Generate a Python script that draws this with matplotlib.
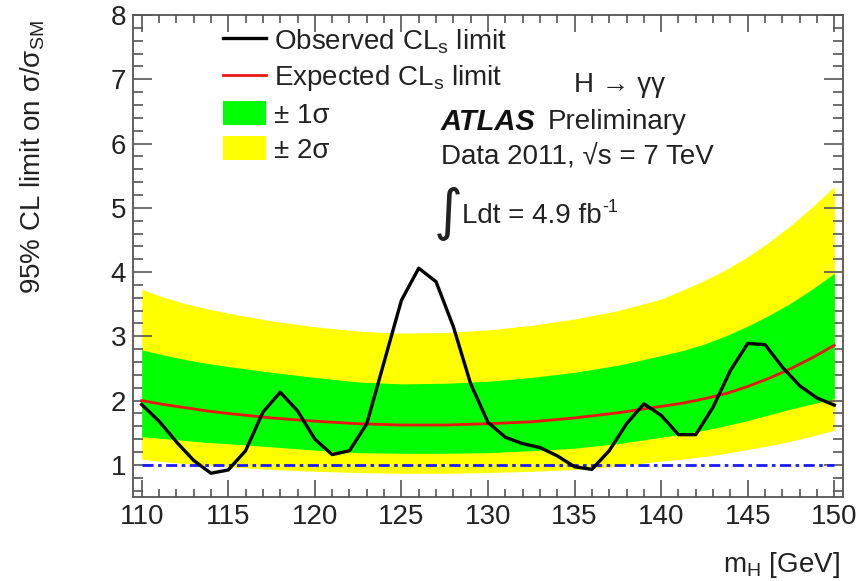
import matplotlib
matplotlib.use("Agg")
import matplotlib.pyplot as plt
from matplotlib.lines import Line2D
from matplotlib.patches import Patch
from matplotlib.ticker import MultipleLocator

plt.rcParams['font.family'] = ['Liberation Sans', 'DejaVu Sans']
plt.rcParams['mathtext.fontset'] = 'custom'
plt.rcParams['mathtext.rm'] = 'Liberation Sans'
plt.rcParams['mathtext.it'] = 'Liberation Sans:italic'
plt.rcParams['mathtext.bf'] = 'Liberation Sans:bold'

# ---------------- data ----------------
mass_obs = [110, 111, 112, 113, 114, 115, 116, 117, 118, 119, 120, 121, 122, 123, 124,
            125, 126, 127, 128, 129, 130, 131, 132, 133, 134, 135, 136, 137, 138, 139,
            140, 141, 142, 143, 144, 145, 146, 147, 148, 149, 150]
observed = [1.94, 1.68, 1.36, 1.07, 0.87, 0.92, 1.22, 1.82, 2.13, 1.84, 1.40, 1.16, 1.22, 1.64, 2.60,
            3.56, 4.06, 3.85, 3.15, 2.26, 1.66, 1.43, 1.33, 1.27, 1.14, 0.97, 0.93, 1.22, 1.64, 1.95,
            1.77, 1.47, 1.47, 1.90, 2.47, 2.89, 2.87, 2.52, 2.23, 2.04, 1.93]

mass_exp = [110, 111.25, 112.5, 113.75, 115, 117.5, 120, 122.5, 125, 127.5, 130, 132.5,
            135, 137.5, 140, 141.25, 142.5, 143.75, 145, 146.25, 147.5, 148.75, 150]
expected = [2.00, 1.94, 1.89, 1.84, 1.80, 1.73, 1.68, 1.64, 1.62, 1.62, 1.64, 1.67,
            1.73, 1.81, 1.91, 1.96, 2.03, 2.11, 2.22, 2.35, 2.50, 2.67, 2.86]
band_2s_up = [3.73, 3.61, 3.51, 3.43, 3.36, 3.24, 3.15, 3.08, 3.05, 3.06, 3.10, 3.17,
              3.27, 3.40, 3.58, 3.72, 3.87, 4.04, 4.24, 4.47, 4.73, 5.02, 5.33]
band_1s_up = [2.79, 2.71, 2.64, 2.58, 2.53, 2.44, 2.36, 2.29, 2.26, 2.27, 2.30, 2.36,
              2.44, 2.55, 2.70, 2.78, 2.88, 3.01, 3.16, 3.33, 3.52, 3.74, 3.98]
band_1s_dn = [1.44, 1.41, 1.38, 1.35, 1.33, 1.28, 1.23, 1.19, 1.18, 1.18, 1.19, 1.22,
              1.26, 1.33, 1.43, 1.48, 1.54, 1.61, 1.69, 1.78, 1.87, 1.95, 2.03]
band_2s_dn = [1.09, 1.05, 1.02, 0.99, 0.97, 0.93, 0.90, 0.88, 0.87, 0.87, 0.88, 0.90,
              0.93, 0.98, 1.06, 1.09, 1.13, 1.18, 1.24, 1.30, 1.37, 1.45, 1.54]
sm_level = 1.0

x_ticks = [110, 115, 120, 125, 130, 135, 140, 145, 150]
y_ticks = [1, 2, 3, 4, 5, 6, 7, 8]

# ---------------- figure ----------------
W, H = 863, 581
fig = plt.figure(figsize=(W / 100, H / 100), dpi=100)
L, R, T, B = 133, 843, 15, 497
ax = fig.add_axes([L / W, 1 - B / H, (R - L) / W, (B - T) / H])

ax.fill_between(mass_exp, band_2s_dn, band_2s_up, color='#ffff00', lw=0, zorder=1)
ax.fill_between(mass_exp, band_1s_dn, band_1s_up, color='#00ff00', lw=0, zorder=2)
ax.plot(mass_exp, expected, color='#e8170f', lw=2.0, zorder=3)
ax.plot([mass_exp[0], mass_exp[-1]], [sm_level, sm_level], color='#1a1aff', lw=2.0,
        linestyle=(0, (4, 1.6, 1.3, 1.6)), zorder=3)
ax.plot(mass_obs, observed, color='black', lw=2.4, zorder=4)

ax.set_xlim(109.5, 150.5)
ax.set_ylim(0.5, 8.0)
ax.set_xticks(x_ticks)
ax.set_yticks(y_ticks)
ax.xaxis.set_minor_locator(MultipleLocator(1))
ax.yaxis.set_minor_locator(MultipleLocator(0.2))
tc = '#555555'
ax.tick_params(which='both', direction='in', top=True, right=True, colors=tc,
               labelcolor='#222222', labelsize=20, width=1.2)
ax.tick_params(which='major', length=14, pad=5)
ax.tick_params(axis='x', which='major', length=12)
ax.tick_params(which='minor', length=7)
ax.tick_params(axis='x', which='minor', length=6)
for s in ax.spines.values():
    s.set_color(tc)
    s.set_linewidth(1.3)

fig.text(840 / W, 1 - 565 / H, r'm$_{\rm H}$ [GeV]', ha='right', va='center',
         fontsize=20, color='#222222')
fig.text(33 / W, 1 - 20 / H, r'95% CL limit on σ/σ$_{\rm SM}$', rotation=90,
         ha='center', va='top', fontsize=20, color='#222222')

handles = [Line2D([], [], color='black', lw=2.4),
           Line2D([], [], color='#e8170f', lw=2.0),
           Patch(facecolor='#00ff00', edgecolor='none'),
           Patch(facecolor='#ffff00', edgecolor='none')]
labels = [r'Observed CL$_{\rm s}$ limit', r'Expected CL$_{\rm s}$ limit',
          '± 1σ', '± 2σ']
leg = ax.legend(handles, labels, loc='upper left', bbox_to_anchor=((223 - L) / (R - L), (B - 27) / (B - T)),
                frameon=False, fontsize=20, handlelength=1.55, handleheight=0.95,
                handletextpad=0.3, labelspacing=0.28, borderpad=0, borderaxespad=0)
for t in leg.get_texts():
    t.set_color('#222222')

def axf(px, py):
    return ((px - L) / (R - L), (B - py) / (B - T))

ax.text(*axf(574, 85), r'H → γγ', transform=ax.transAxes, ha='left', va='center',
        fontsize=20, color='#222222')
ax.text(*axf(441, 122), 'ATLAS', transform=ax.transAxes, ha='left', va='center',
        fontsize=21, fontweight='bold', fontstyle='italic', color='#111111')
ax.text(*axf(548, 122), 'Preliminary', transform=ax.transAxes, ha='left', va='center',
        fontsize=20, color='#222222')
ax.text(*axf(441, 158), 'Data 2011, √s = 7 TeV', transform=ax.transAxes, ha='left',
        va='center', fontsize=20, color='#222222')
ax.text(*axf(434, 214), '∫', transform=ax.transAxes, ha='left', va='center',
        fontsize=40, color='#222222', family=['DejaVu Sans', 'Liberation Sans'])
ldt = ax.text(*axf(462, 216), 'Ldt = 4.9 fb', transform=ax.transAxes, ha='left',
              va='center', fontsize=20, color='#222222')
ax.annotate('-1', xy=(1, 1), xycoords=ldt, xytext=(0.5, 3), textcoords='offset points',
            ha='left', va='top', fontsize=13, color='#222222')

fig.savefig('out.png', dpi=100)
